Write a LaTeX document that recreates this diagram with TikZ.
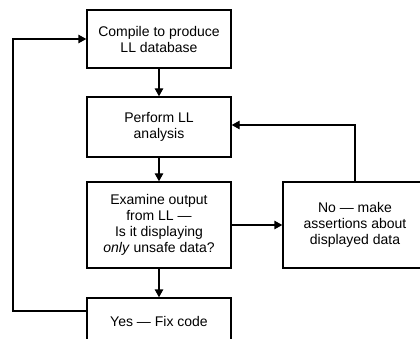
\documentclass[tikz,border=0pt]{standalone}
\usepackage{fontspec}
\setmainfont{Liberation Sans}
\usetikzlibrary{arrows.meta}

\begin{document}
\begin{tikzpicture}[
		x=1pt, y=-1pt,
		stepbox/.style ={
			rectangle,	draw=black,	line width=1.4pt,
			align=center,	inner sep=2pt,	minimum width=144pt,
			font=\fontsize{14}{16}\selectfont
		},
		flow/.style ={
			line width=1.4pt,	-{Triangle[length=8pt,width=8.5pt]}
		},
	]

	\useasboundingbox (0,0) rectangle (420,339);
	\clip (0,0) rectangle (420,339);

	% nodes
	\node (compile) at (159, 39) [stepbox, minimum height=58pt] {Compile to produce\\LL database};
	\node (perform) at (159,127) [stepbox, minimum height=60pt] {Perform LL\\analysis};
	\node (examine) at (159,225) [stepbox, minimum height=86pt] {Examine output\\from LL ---\\Is it displaying\\\textit{only} unsafe data?};
	\node (assert)  at (355,225) [stepbox, minimum height=86pt] {No --- make\\assertions about\\displayed data};
	\node (fix)     at (159,321) [stepbox, minimum height=46pt] {Yes --- Fix code};

	\coordinate (loopbot) at (13,311);
	\coordinate (looptop) at (13, 39);
	\coordinate (backup)  at (355,125);

	% interconnections
	\draw [flow] (compile) -- (perform);
	\draw [flow] (perform) -- (examine);
	\draw [flow] (examine) -- (fix);
	\draw [flow] (examine) -- (assert);
	\draw [flow] (assert) -- (backup) -- (perform.east |- backup);
	\draw [flow] (fix.west |- loopbot) -- (loopbot) -- (looptop) -- (compile);

\end{tikzpicture}
\end{document}
